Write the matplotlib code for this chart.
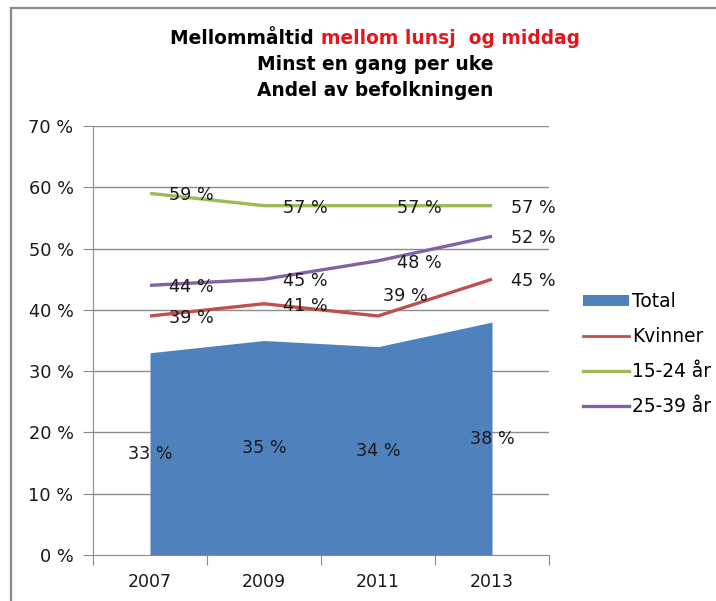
import matplotlib
matplotlib.use("Agg")
import matplotlib.pyplot as plt
from matplotlib.lines import Line2D
from matplotlib.patches import Patch

years = ["2007", "2009", "2011", "2013"]
total = [33, 35, 34, 38]
kvinner = [39, 41, 39, 45]
age_15_24 = [59, 57, 57, 57]
age_25_39 = [44, 45, 48, 52]
y_ticks = [0, 10, 20, 30, 40, 50, 60, 70]
y_tick_labels = ["0 %", "10 %", "20 %", "30 %", "40 %", "50 %", "60 %", "70 %"]

C_TOTAL = "#4F81BD"
C_KV = "#C0504D"
C_15 = "#9BBB59"
C_25 = "#8064A2"
GRID = "#8C8C8C"

plt.rcParams["font.family"] = ["DejaVu Sans"]

W, H = 716, 601
fig = plt.figure(figsize=(W / 100, H / 100), dpi=100)

# Chart frame border (top and left visible)
fig.add_artist(Line2D([11 / W, 11 / W], [0, 1 - 8 / H], color="#8A8A8A", lw=1.6,
                      transform=fig.transFigure))
fig.add_artist(Line2D([11 / W, 1], [1 - 8 / H, 1 - 8 / H], color="#8A8A8A", lw=1.6,
                      transform=fig.transFigure))

ax = fig.add_axes([93 / W, (H - 555) / H, (549 - 93) / W, (555 - 126) / H])
x = list(range(len(years)))

ax.set_xlim(-0.5, len(years) - 0.5)
ax.set_ylim(0, 70)

for t in y_ticks[1:]:
    ax.axhline(t, color=GRID, lw=1.0, zorder=0)

ax.fill_between(x, total, 0, color=C_TOTAL, lw=0, zorder=1)
ax.plot(x, kvinner, color=C_KV, lw=2.4, zorder=3, solid_capstyle="butt")
ax.plot(x, age_15_24, color=C_15, lw=2.4, zorder=3, solid_capstyle="butt")
ax.plot(x, age_25_39, color=C_25, lw=2.4, zorder=3, solid_capstyle="butt")

FS = 12.7
def lab(xi, v, dx=19, dy=-2, ha="left"):
    ax.annotate(f"{v} %", (xi, v), xytext=(dx, dy), textcoords="offset pixels",
                ha=ha, va="center", fontsize=FS, color="#1a1a1a", zorder=5)

for xi, v in zip(x, age_15_24):
    lab(xi, v)
for xi, v in zip(x, age_25_39):
    lab(xi, v)
for i, (xi, v) in enumerate(zip(x, kvinner)):
    if i == 2:
        lab(xi, v, dx=5, dy=20)
    else:
        lab(xi, v)
for xi, v in zip(x, total):
    ax.annotate(f"{v} %", (xi, v / 2), ha="center", va="center", fontsize=FS,
                color="#1a1a1a", zorder=5)

# axes styling
for s in ["top", "right"]:
    ax.spines[s].set_visible(False)
ax.spines["left"].set_color(GRID)
ax.spines["bottom"].set_color(GRID)
ax.spines["left"].set_zorder(4)
ax.spines["bottom"].set_zorder(4)

ax.set_yticks(y_ticks)
ax.set_yticklabels(y_tick_labels, fontsize=12.8, color="#1a1a1a")
ax.tick_params(axis="y", length=7, color=GRID, pad=7)

ax.set_xticks([i - 0.5 for i in range(len(years) + 1)])
ax.set_xticklabels([])
ax.set_xticks(x, minor=True)
ax.set_xticklabels(years, minor=True, fontsize=12.5, color="#1a1a1a")
ax.tick_params(axis="x", which="major", length=7, color=GRID)
ax.tick_params(axis="x", which="minor", length=0, pad=13)

# Title
TFS = 13.4
ty1 = 1 - 39 / H
t1 = fig.text(0, ty1, "Mellommåltid ", fontsize=TFS, fontweight="bold",
              color="black", ha="left", va="center")
t2 = fig.text(0, ty1, "mellom lunsj  og middag", fontsize=TFS, fontweight="bold",
              color="#E8141C", ha="left", va="center")
fig.canvas.draw()
w1 = t1.get_window_extent().width
w2 = t2.get_window_extent().width
x0 = 375 - (w1 + w2) / 2
t1.set_x(x0 / W)
t2.set_x((x0 + w1) / W)
fig.text(375 / W, 1 - 65 / H, "Minst en gang per uke", fontsize=TFS, fontweight="bold",
         ha="center", va="center")
fig.text(375 / W, 1 - 91 / H, "Andel av befolkningen", fontsize=TFS, fontweight="bold",
         ha="center", va="center")

# Legend
handles = [Patch(facecolor=C_TOTAL, edgecolor="none"),
           Line2D([], [], color=C_KV, lw=2.0),
           Line2D([], [], color=C_15, lw=2.4),
           Line2D([], [], color=C_25, lw=2.4)]
labels = ["Total", "Kvinner", "15-24 år", "25-39 år"]
leg = fig.legend(handles, labels, loc="center left", bbox_to_anchor=(583 / W, 1 - 354 / H),
                 frameon=False, fontsize=13.4, handlelength=2.45, handleheight=0.6,
                 handletextpad=0.2, labelspacing=0.86, borderaxespad=0, borderpad=0)

fig.savefig("out.png", dpi=100)
